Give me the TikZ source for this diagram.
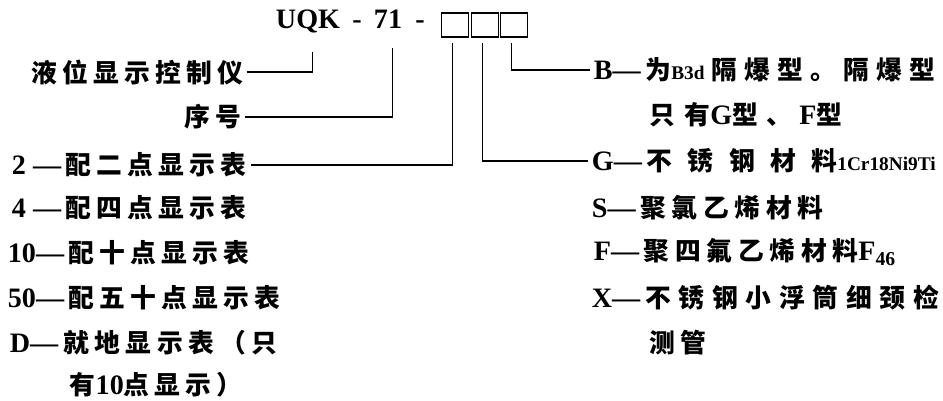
\documentclass[tikz,border=0pt]{standalone}
\usepackage{fontspec}
\setmainfont{Liberation Serif}
\newfontfamily\cjk{Noto Sans CJK SC Bold}
\newcommand\zh[2][20]{{\fontsize{22}{26}\cjk\addfontfeature{LetterSpace=#1}#2}}
\newcommand\sm[1]{{\fontsize{16.5}{20}\selectfont #1}}

\begin{document}
\begin{tikzpicture}[x=0.03cm,y=-0.03cm,line width=1.3pt,
  every node/.style={font=\fontsize{24}{28}\selectfont\bfseries},
  lbl/.style={inner sep=1pt},
  hbox/.style={draw,line width=1.1pt,minimum width=0.81cm,minimum height=0.72cm,inner sep=0pt},
  conn/.style={shorten <=5pt,shorten >=2pt}]
  \useasboundingbox (0,0) rectangle (943,401);
  % codigo del modelo
  \node[anchor=base] (uqk) at (308,29) {UQK};
  \node[anchor=base] (g1) at (357,29) {-};
  \node[anchor=base] (num) at (388,29) {71};
  \node[anchor=base] (g2) at (420,29) {-};
  \node[hbox] (c1) at (455,25) {};
  \node[hbox] (c2) at (485,25) {};
  \node[hbox] (c3) at (514,25) {};
  % columna izquierda
  \node[lbl,anchor=east] (tipo) at (245,72) {\zh{液位显示控制仪}};
  \node[lbl,anchor=east] (serie) at (243,117) {\zh{序号}};
  \node[lbl,anchor=west] (p2) at (10,165) {2 —\,\zh{配二点显示表}};
  \node[lbl,anchor=west] (p4) at (10,208) {4 —\,\zh{配四点显示表}};
  \node[lbl,anchor=west] (p10) at (6,253) {10—\,\zh{配十点显示表}};
  \node[lbl,anchor=west] (p50) at (6,298) {50—\,\zh{配五十点显示表}};
  \node[lbl,anchor=west] (pd) at (8,343) {D—\,\zh[22]{就地显示表（只}};
  \node[lbl,anchor=west] (pd2) at (68,385) {\zh{有}10\zh{点显示）}};
  % columna derecha
  \node[lbl,anchor=west] (rb) at (592,70) {B—\,\zh{为}\sm{B3d} \zh[28]{隔爆型。隔爆型}};
  \node[lbl,anchor=west] (rb2) at (648,115) {\zh[34]{只有}G\zh[34]{型、} F\zh{型}};
  \node[lbl,anchor=west] (rg) at (590,161) {G—\,\zh[60]{不锈钢材料}\sm{1Cr18Ni9Ti}};
  \node[lbl,anchor=west] (rs) at (590,208) {S—\,\zh[22]{聚氯乙烯材料}};
  \node[lbl,anchor=west] (rf) at (592,252) {F—\,\zh[22]{聚四氟乙烯材料}F\textsubscript{46}};
  \node[lbl,anchor=west] (rx) at (590,298) {X—\,\zh[30]{不锈钢小浮筒细颈检}};
  \node[lbl,anchor=west] (rx2) at (648,343) {\zh{测管}};
  % conectores
  \draw[conn,shorten <=12pt] ([xshift=4pt]uqk.south) |- (tipo.east);
  \draw[conn,shorten <=12pt] ([xshift=4pt]num.south) |- (serie.east);
  \draw[conn] ([xshift=-2pt]c1.south) |- (p2.east);
  \draw[conn] ([xshift=-2pt]c2.south) |- (rg.west);
  \draw[conn] ([xshift=-2pt]c3.south) |- (rb.west);
\end{tikzpicture}
\end{document}
